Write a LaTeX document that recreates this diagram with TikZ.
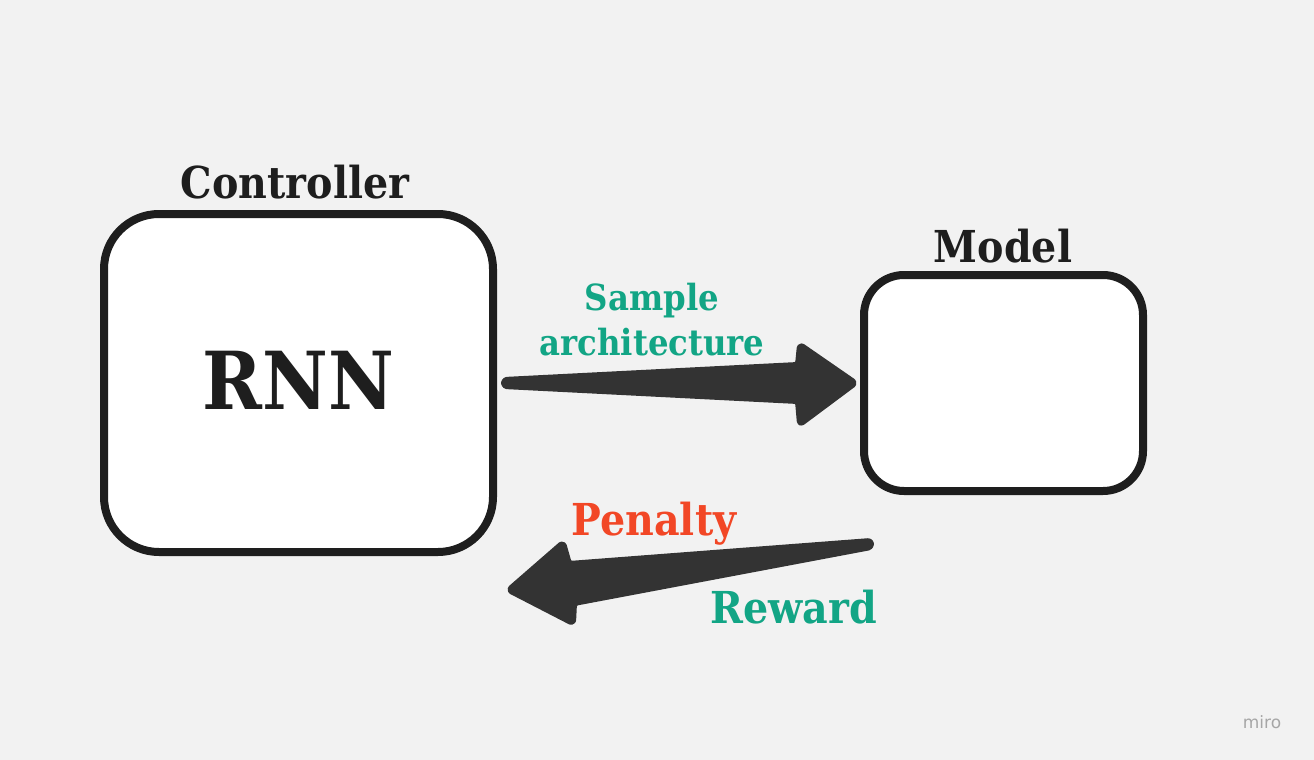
\documentclass[tikz,border=0pt]{standalone}
\usepackage{fontspec}
\setmainfont{DejaVu Serif Condensed}
\newfontfamily\logofont{DejaVu Sans}
\definecolor{bg}{HTML}{F2F2F2}
\definecolor{ink}{HTML}{1E1E1E}
\definecolor{arrowc}{HTML}{333333}
\definecolor{teal}{HTML}{12A585}
\definecolor{redc}{HTML}{F24726}
\tikzset{
  boxst/.style={draw=ink, line width=8pt, fill=white, rounded corners=#1},
  lbl/.style={font=\bfseries\fontsize{44}{44}\selectfont, text=ink, inner sep=0pt},
  fatarrow/.style={fill=arrowc, draw=arrowc, line width=6pt, rounded corners=3pt, line join=round},
}
\begin{document}
\begin{tikzpicture}[x=1pt,y=-1pt]
\fill[bg] (0,0) rectangle (1314,760);
\useasboundingbox (0,0) rectangle (1314,760);
% boxes
\draw[boxst=55pt] (104,214) rectangle (493,552);
\coordinate (ctrl) at (298.5,383);
\node[inner sep=0pt, font=\bfseries\fontsize{80}{80}\selectfont, text=ink] (rnn) at (298.5,380) {RNN};
\draw[boxst=40pt] (864,275) rectangle (1143,491);
\coordinate (model) at (1003.5,383);
\node[lbl, anchor=base] (ctrllbl) at (295,198) {Controller};
\node[lbl, anchor=base] (modellbl) at (1003,262) {Model};
% upper arrow
\coordinate (a1tail) at (504,383);
\coordinate (a1tip) at (855,383);
\fill[fatarrow] (504,380) -- (798,365) -- (800,345) -- (a1tip) -- (800,424) -- (798,401) -- (504,386) -- cycle;
% lower arrow
\coordinate (a2tail) at (871,544);
\coordinate (a2tip) at (509,590);
\fill[fatarrow] (871,541) -- (569,564) -- (563,543) -- (a2tip) -- (573,623) -- (574,603) -- (871,547) -- cycle;
% labels
\node[font=\bfseries\fontsize{36}{45}\selectfont, text=teal, align=center, inner sep=0pt, anchor=base] (sample) at (652,355) {Sample\\architecture};
\node[font=\bfseries\fontsize{44}{44}\selectfont, text=redc, inner sep=0pt, anchor=base] (pen) at (654,535) {Penalty};
\node[font=\bfseries\fontsize{44}{44}\selectfont, text=teal, inner sep=0pt, anchor=base] (rew) at (794,623) {Reward};
% logo
\node[font=\logofont\fontsize{17}{17}\selectfont, text=black!35, inner sep=0pt] (miro) at (1262,722) {miro};
\end{tikzpicture}
\end{document}
